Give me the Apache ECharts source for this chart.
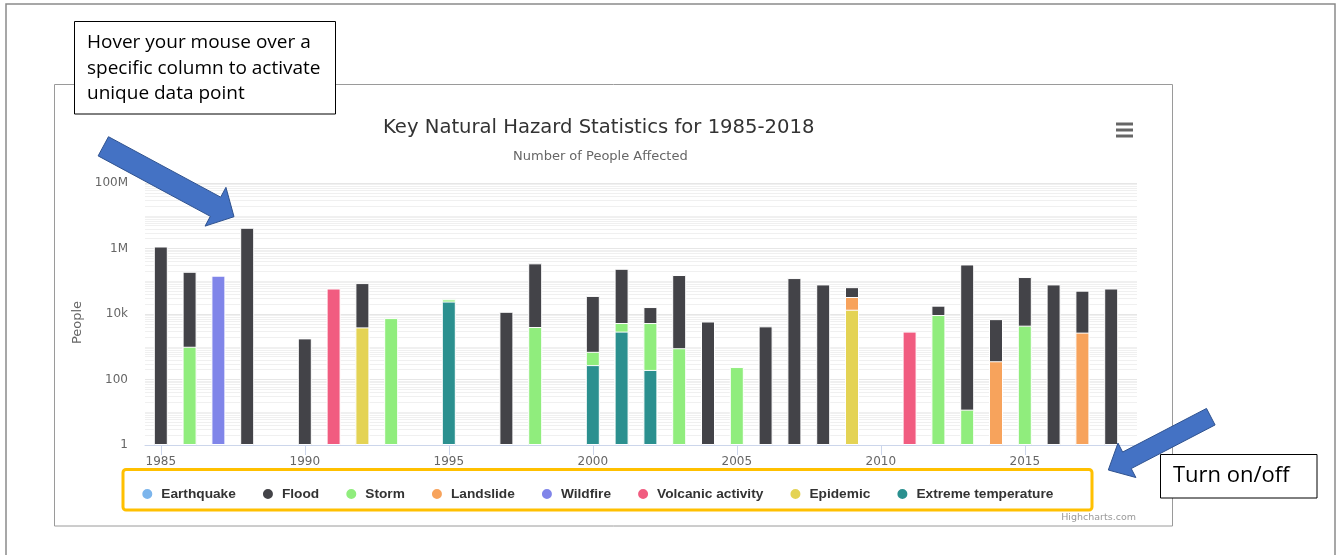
<!DOCTYPE html>
<html>
<head>
<meta charset="utf-8">
<script src="https://cdn.jsdelivr.net/npm/echarts@6/dist/echarts.min.js"></script>
<style>
html,body{margin:0;padding:0;background:#fff;}
#c{width:1337px;height:555px;}
</style>
</head>
<body>
<div id="c"></div>
<script>
// ---------------- data ----------------
const years = [1985,1986,1987,1988,1989,1990,1991,1992,1993,1994,1995,1996,1997,1998,1999,2000,2001,2002,2003,2004,2005,2006,2007,2008,2009,2010,2011,2012,2013,2014,2015,2016,2017,2018];
const seriesNames = ['Earthquake','Flood','Storm','Landslide','Wildfire','Volcanic activity','Epidemic','Extreme temperature'];
const seriesColors = ['#7cb5ec','#434348','#90ed7d','#f7a35c','#8085e9','#f15c80','#e4d354','#2b908f'];
const yTickLabels = {1:'1', 100:'100', 10000:'10k', 1000000:'1M', 100000000:'100M'};

const earthquake = [null,null,null,null,null,null,null,null,null,null,null,null,null,null,null,null,null,null,null,null,null,null,null,null,null,null,null,null,null,null,null,null,null,null];
const flood      = [1150000,194000,null,4300000,null,1800,null,84000,null,null,null,null,11700,348000,null,35000,235000,11000,154000,5900,null,4200,125000,80000,33000,null,null,8700,326000,6600,130000,80000,49000,60000];
const storm      = [null,1000,null,null,null,null,null,null,7500,null,4000,null,null,4000,null,425,2400,5100,900,null,240,null,null,null,null,null,null,9300,12,null,4400,null,null,null];
const landslide  = [null,null,null,null,null,null,null,null,null,null,null,null,null,null,null,null,null,null,null,null,null,null,null,null,19500,null,null,null,null,360,null,null,2700,null];
const wildfire   = [null,null,148000,null,null,null,null,null,null,null,null,null,null,null,null,null,null,null,null,null,null,null,null,null,null,null,null,null,null,null,null,null,null,null];
const volcanic   = [null,null,null,null,null,null,60000,null,null,null,null,null,null,null,null,null,null,null,null,null,null,null,null,null,null,null,2900,null,null,null,null,null,null,null];
const epidemic   = [null,null,null,null,null,null,null,3900,null,null,null,null,null,null,null,null,null,null,null,null,null,null,null,null,13500,null,null,null,null,null,null,null,null,null];
const extremeTemp= [null,null,null,null,null,null,null,null,null,null,24000,null,null,null,null,275,2900,196,null,null,null,null,null,null,null,null,null,null,null,null,null,null,null,null];

const seriesData = {
  'Earthquake': earthquake, 'Flood': flood, 'Storm': storm, 'Landslide': landslide,
  'Wildfire': wildfire, 'Volcanic activity': volcanic, 'Epidemic': epidemic, 'Extreme temperature': extremeTemp
};

// Highcharts stacks the first series on top: cumulative totals from the bottom series upward.
const stackBottomToTop = seriesNames.slice().reverse();
const running = years.map(function () { return 0; });
const cumulative = {};
stackBottomToTop.forEach(function (name) {
  cumulative[name] = seriesData[name].map(function (v, i) {
    if (v == null) return null;
    running[i] += v;
    return running[i];
  });
});

// minor log grid lines (2..9 x 10^n and odd decades)
const minorGrid = [];
for (let n = 0; n < 8; n++) {
  const p = Math.pow(10, n);
  if (n % 2 === 1) minorGrid.push(p);
  for (let k = 2; k <= 9; k++) minorGrid.push(k * p);
}

// ---------------- helpers ----------------
function arrowPoints(tail, tip, hs, hh, hl) {
  const dx = tip[0]-tail[0], dy = tip[1]-tail[1], L = Math.hypot(dx, dy);
  const ux = dx/L, uy = dy/L, px = -uy, py = ux;
  const nx = tip[0]-ux*hl, ny = tip[1]-uy*hl;
  return [
    [tail[0]+px*hs, tail[1]+py*hs], [nx+px*hs, ny+py*hs], [nx+px*hh, ny+py*hh],
    tip, [nx-px*hh, ny-py*hh], [nx-px*hs, ny-py*hs], [tail[0]-px*hs, tail[1]-py*hs]
  ];
}

// Overlapping bars: the series with the tallest running total is drawn first,
// each lower segment is drawn over it, which reproduces the stacked column.
const barSeries = seriesNames.map(function (name, i) {
  return {
    name: name, type: 'bar',
    xAxisIndex: 1, yAxisIndex: 1,
    barWidth: 14, barGap: '-100%',
    data: cumulative[name],
    itemStyle: { color: seriesColors[i], borderColor: '#ffffff', borderWidth: 1 },
    emphasis: { disabled: true },
    tooltip: {
      formatter: function (p) {
        const raw = seriesData[name][p.dataIndex];
        return years[p.dataIndex] + '<br/>' + p.marker + name + ': <b>' + raw + '</b>';
      }
    }
  };
});

const chart = echarts.init(document.getElementById('c'), null, { renderer: 'canvas' });
chart.setOption({
  animation: false,
  backgroundColor: '#ffffff',
  color: seriesColors,
  tooltip: { trigger: 'item' },
  title: [
    { text: 'Key Natural Hazard Statistics for 1985-2018', left: 383, top: 118, padding: 0,
      textStyle: { fontFamily: 'DejaVu Sans', fontSize: 19.6, fontWeight: 'normal', color: '#333333' } },
    { text: 'Number of People Affected', left: 513, top: 150, padding: 0,
      textStyle: { fontFamily: 'DejaVu Sans', fontSize: 13, fontWeight: 'normal', color: '#666666' } }
  ],
  legend: {
    data: seriesNames, left: 140.3, top: 487, padding: 0,
    icon: 'circle', itemWidth: 18, itemHeight: 12, itemGap: 25.1,
    textStyle: { fontFamily: 'Liberation Sans', fontWeight: 'bold', fontSize: 13.7, color: '#333333' }
  },
  grid: [
    { left: 145, top: 183, width: 992, height: 262 },
    { left: 146.4, top: 183, width: 979.2, height: 262 }
  ],
  xAxis: [
    { type: 'value', gridIndex: 0, min: 0, max: 1,
      axisLine: { show: true, onZero: false, lineStyle: { color: '#ccd6eb', width: 1 } },
      axisTick: { show: false }, axisLabel: { show: false }, splitLine: { show: false } },
    { type: 'category', gridIndex: 1, data: years,
      axisLine: { show: false },
      axisTick: { show: true, interval: 4, alignWithLabel: true, length: 10, lineStyle: { color: '#ccd6eb' } },
      axisLabel: { interval: 4, color: '#666666', fontFamily: 'DejaVu Sans', fontSize: 12, margin: 11 },
      splitLine: { show: false } }
  ],
  yAxis: [
    { type: 'log', gridIndex: 0, logBase: 10, min: 1, max: 1e8, interval: 2,
      axisLine: { show: false }, axisTick: { show: false },
      axisLabel: { margin: 17, color: '#666666', fontFamily: 'DejaVu Sans', fontSize: 12,
        formatter: function (v) { const key = Math.round(v); return yTickLabels[key] !== undefined ? yTickLabels[key] : ''; } },
      splitLine: { show: true, lineStyle: { color: '#e6e6e6', width: 1 } },
      name: 'People', nameLocation: 'middle', nameRotate: 90, nameGap: 57,
      nameTextStyle: { color: '#666666', fontFamily: 'DejaVu Sans', fontSize: 13, padding: [0, 17, 0, 0] } },
    { type: 'log', gridIndex: 1, logBase: 10, min: 1, max: 1e8, show: false, splitLine: { show: false } }
  ],
  series: [
    { name: '_grid', type: 'line', xAxisIndex: 0, yAxisIndex: 0, data: [], silent: true, z: 0,
      markLine: { silent: true, z: 0, symbol: 'none', label: { show: false }, animation: false,
        lineStyle: { color: '#f0f0f0', width: 1, type: 'solid' },
        emphasis: { disabled: true },
        data: minorGrid.map(function (v) { return { yAxis: v }; }) } }
  ].concat(barSeries),
  graphic: [
    { type: 'rect', z: 0, silent: true, shape: { x: 6, y: 4, width: 1329, height: 570 },
      style: { fill: 'none', stroke: '#8a8a8a', lineWidth: 1.5 } },
    { type: 'rect', z: 0, silent: true, shape: { x: 54.5, y: 84.5, width: 1118, height: 441.5 },
      style: { fill: 'none', stroke: '#9a9a9a', lineWidth: 1 } },
    // hamburger
    { type: 'line', z: 5, silent: true, shape: { x1: 1116, y1: 124, x2: 1133, y2: 124 }, style: { stroke: '#666666', lineWidth: 3 } },
    { type: 'line', z: 5, silent: true, shape: { x1: 1116, y1: 130, x2: 1133, y2: 130 }, style: { stroke: '#666666', lineWidth: 3 } },
    { type: 'line', z: 5, silent: true, shape: { x1: 1116, y1: 136, x2: 1133, y2: 136 }, style: { stroke: '#666666', lineWidth: 3 } },
    { type: 'text', z: 5, silent: true, x: 1136, y: 518,
      style: { text: 'Highcharts.com', align: 'right', verticalAlign: 'middle', fill: '#999999', font: '9.5px "DejaVu Sans"' } },
    // legend highlight box
    { type: 'rect', z: 50, silent: true, shape: { x: 123, y: 469.5, width: 969, height: 40.5, r: 3 },
      style: { fill: 'none', stroke: '#FFC000', lineWidth: 3 } },
    // callout 1
    { type: 'rect', z: 100, silent: true, shape: { x: 74.5, y: 21.5, width: 261, height: 92.5 },
      style: { fill: '#ffffff', stroke: '#000000', lineWidth: 1 } },
    { type: 'text', z: 101, silent: true, x: 87, y: 68.5,
      style: { text: 'Hover your mouse over a\nspecific column to activate\nunique data point',
        align: 'left', verticalAlign: 'middle', lineHeight: 25.5, fill: '#000000', font: '19px "Open Sans"' } },
    { type: 'polygon', z: 100, silent: true,
      shape: { points: arrowPoints([103.3, 146.3], [234, 216.7], 10.9, 22, 21) },
      style: { fill: '#4472C4', stroke: '#2F528F', lineWidth: 1 } },
    // callout 2
    { type: 'rect', z: 100, silent: true, shape: { x: 1160.5, y: 454.5, width: 156.5, height: 43.5 },
      style: { fill: '#ffffff', stroke: '#000000', lineWidth: 1 } },
    { type: 'text', z: 101, silent: true, x: 1173, y: 476,
      style: { text: 'Turn on/off', align: 'left', verticalAlign: 'middle', fill: '#000000', font: '22px "Open Sans"' } },
    { type: 'polygon', z: 100, silent: true,
      shape: { points: arrowPoints([1210.8, 416.7], [1108.3, 470], 9.3, 19.4, 21) },
      style: { fill: '#4472C4', stroke: '#2F528F', lineWidth: 1 } }
  ]
});
</script>
</body>
</html>
